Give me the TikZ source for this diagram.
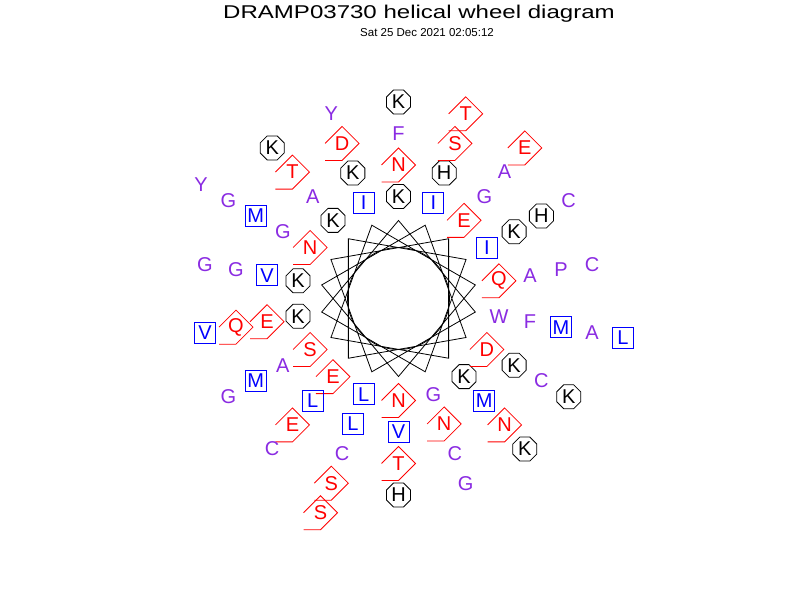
\documentclass[tikz,border=0pt]{standalone}
\usepackage{fontspec}
\setmainfont{Liberation Sans}
\newfontfamily\titlefont[FakeStretch=1.3]{Liberation Sans}
\usepackage{tikz}
\usetikzlibrary{shapes.geometric}
\definecolor{aapurple}{RGB}{138,43,226}
\tikzstyle{res} = [inner sep=0pt, font=\fontsize{20}{20}\selectfont]
\tikzstyle{sq} = [res, rectangle, draw=blue, text=blue, minimum size=21pt, line width=0.8pt]
\tikzstyle{oct} = [res, regular polygon, regular polygon sides=8, draw=black, minimum size=26pt, line width=0.8pt]
\tikzstyle{dia} = [res, text=red]
\tikzstyle{txt} = [res, text=aapurple]
\tikzstyle{wheel} = [line width=0.8pt, black]
\def\diakind{dia}

\begin{document}
\begin{tikzpicture}[x=1pt, y=1pt]
	\useasboundingbox[fill=white] (0,0) rectangle (800,600);
	\node (Title) [anchor=base] at (419,581) {\titlefont\fontsize{18.5}{18.5}\selectfont DRAMP03730 helical wheel diagram};
	\node (Stamp) [anchor=base] at (427,563) {\fontsize{11.5}{11.5}\selectfont Sat 25 Dec 2021 02:05:12};
	\coordinate (Centre) at (398.5,301.5);
	\foreach \k in {0,...,17}
		\coordinate (Spoke\k) at ([shift={(-10-100*\k:78)}]Centre);
	\draw [wheel] (Spoke0) \foreach \k in {1,...,17} {-- (Spoke\k)} -- cycle;
	\draw [wheel] (Centre) circle (51);
	\foreach \aa/\kind [count=\i from 0] in {
		W/txt, L/sq, N/dia, E/dia, K/oct, S/dia, I/sq, Q/dia, N/dia, K/oct, I/sq, D/dia, E/dia, K/oct, I/sq, G/txt, K/oct, K/oct,
		F/txt, L/sq, G/txt, G/txt, M/sq, A/txt, K/oct, A/txt, V/sq, V/sq, H/oct, K/oct, L/sq, A/txt, K/oct, N/dia, E/dia, N/dia,
		M/sq, C/txt, M/sq, A/txt, N/dia, M/sq, D/dia, P/txt, T/dia, G/txt, S/dia, C/txt, E/dia, T/dia, H/oct, C/txt, Q/dia, F/txt,
		A/txt, S/dia, G/txt, E/dia, K/oct, G/txt, Y/txt, C/txt, H/oct, G/txt, T/dia, K/oct, C/txt, K/oct, C/txt, G/txt, V/sq, K/oct,
		L/sq, S/dia, Y/txt} {
		\pgfmathsetmacro\ang{-10-100*\i}
		\pgfmathsetmacro\rad{102+31.5*floor(\i/18)}
		\node (Res\i) [\kind] at ([shift={(\ang:\rad)}]Centre) {\aa};
		\ifx\kind\diakind
			\draw [red, line width=0.8pt] (Res\i.center) ++(-17,0) -- ++(17,17) -- ++(17,-17) -- ++(-17,-17) -- ++(-17,0);
		\fi
	}
\end{tikzpicture}
\end{document}
